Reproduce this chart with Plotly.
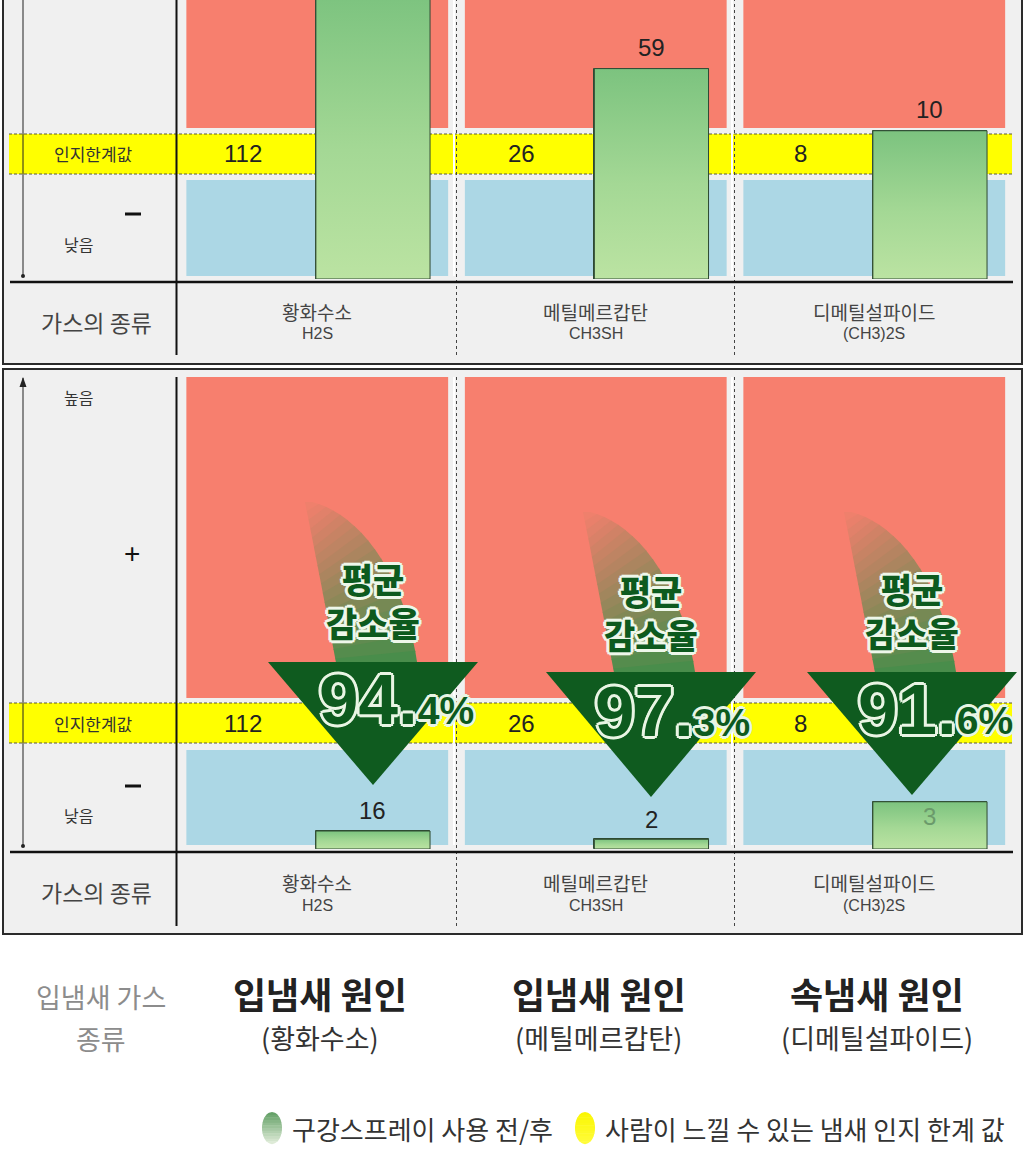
import math
import plotly.graph_objects as go

W, H = 1024, 1165

# ---------------- data ----------------
gases_kr = ["황화수소", "메틸메르캅탄", "디메틸설파이드"]
gases_formula = ["H2S", "CH3SH", "(CH3)2S"]
threshold = [112, 26, 8]            # 인지한계값 (odour perception threshold)
before = [520, 59, 10]              # H2S bar runs past the top edge (value not visible) -> estimate
after = [16, 2, 3]
reduction = [94.4, 97.3, 91.6]      # 평균 감소율 (%)
reduction_head = "평균<br>감소율"
left_labels = ["인지한계값", "낮음", "높음", "가스의 종류"]
cause_title = ["입냄새 원인", "입냄새 원인", "속냄새 원인"]
cause_sub = ["(황화수소)", "(메틸메르캅탄)", "(디메틸설파이드)"]
footer_head = ["입냄새 가스", "종류"]
legend_labels = ["구강스프레이 사용 전/후", "사람이 느낄 수 있는 냄새 인지 한계 값"]

# ---------------- helpers ----------------
KR = "Noto Sans CJK KR"
NUM = "Liberation Sans"


def X(px):
    return px / W


def Y(py):
    return 1 - py / H


shapes = []
annotations = []


def rect(x0, y0, x1, y1, fill, line_color=None, line_width=0, xref="paper"):
    if xref == "paper":
        a, b = X(x0), X(x1)
    else:
        a, b = x0, x1
    shapes.append(dict(type="rect", xref=xref, yref="paper", x0=a, x1=b, y0=Y(y1), y1=Y(y0),
                       fillcolor=fill, line=dict(color=line_color or fill, width=line_width),
                       layer="below"))


def seg(x0, y0, x1, y1, color="#111", width=1, dash="solid"):
    shapes.append(dict(type="line", xref="paper", yref="paper", x0=X(x0), y0=Y(y0), x1=X(x1), y1=Y(y1),
                       line=dict(color=color, width=width, dash=dash), layer="below"))


def poly(points, fill):
    d = "M " + " L ".join(f"{X(x):.5f},{Y(y):.5f}" for x, y in points) + " Z"
    shapes.append(dict(type="path", xref="paper", yref="paper", path=d, fillcolor=fill,
                       line=dict(width=0), layer="below"))


def circle(cx, cy, r, fill):
    shapes.append(dict(type="circle", xref="paper", yref="paper", x0=X(cx - r), x1=X(cx + r),
                       y0=Y(cy + r), y1=Y(cy - r), fillcolor=fill, line=dict(width=0), layer="below"))


def text(t, x, y, size, color="#333", family=KR, xanchor="center", weight="normal",
         xref="paper", yref="paper", shadow=None, yshift=0):
    font = dict(size=size, color=color, family=family, weight=weight)
    if shadow:
        font["shadow"] = shadow
    annotations.append(dict(text=t, x=X(x) if xref == "paper" else x, y=Y(y) if yref == "paper" else y,
                            xref=xref, yref=yref, showarrow=False, xanchor=xanchor, yanchor="middle",
                            font=font, yshift=yshift))


def mix(c1, c2, f):
    return "rgb(" + ",".join(str(int(round(a * (1 - f) + b * f))) for a, b in zip(c1, c2)) + ")"


# ---------------- geometry (pixels) ----------------
X_LEFT, X_RIGHT = 178, 1013.5           # plot-area extent of the three gas columns
K_TOP = 240.0                           # px per decade (top panel, log of ratio)
TOP_BASE, TOP_THR = 279, 154
BOT_BASE, BOT_THR, BOT_TOP = 849, 723, 377
BOT_UNIT = BOT_BASE - BOT_THR

y1_range = [-(TOP_BASE - TOP_THR) / K_TOP, TOP_THR / K_TOP]
y2_range = [0, (BOT_BASE - BOT_TOP) / BOT_UNIT]

panels = [
    dict(top=-8, bottom=364, zone_top=-8, red_bot=128, yel_top=134, yel_bot=174, blue_top=180,
         blue_bot=276, hline=282, vtop=-8, vbot=355, cat_y=312, form_y=334, thr_y=153,
         minus_y=214, low_y=244, gas_y=322, arrow_top=-8, arrow_bot=276, high=False,
         xa="x", ya="y"),
    dict(top=369, bottom=934, zone_top=377, red_bot=698, yel_top=703, yel_bot=743, blue_top=750,
         blue_bot=845, hline=852, vtop=377, vbot=926, cat_y=882, form_y=905, thr_y=723,
         minus_y=786, low_y=815, gas_y=892, arrow_top=378, arrow_bot=846, high=True,
         xa="x2", ya="y2"),
]

RED = "#f77f6e"
BLUE = "#acd7e5"
YEL = "#ffff00"
PANEL = "#f0f0f0"

for p in panels:
    rect(3, p["top"], 1022, p["bottom"], PANEL, "#2b2b2b", 2)
    for i in range(3):
        rect(i - 0.47, p["zone_top"], i + 0.47, p["red_bot"], RED, xref=p["xa"])
        rect(i - 0.47, p["blue_top"], i + 0.47, p["blue_bot"], BLUE, xref=p["xa"])
    rect(9, p["yel_top"], 1012, p["yel_bot"], YEL)
    seg(9, p["yel_top"], 1012, p["yel_top"], "#5a5a3a", 1, "3px,2px")
    seg(9, p["yel_bot"], 1012, p["yel_bot"], "#5a5a3a", 1, "3px,2px")
    for xd in (456.5, 734.5):
        seg(xd - 2.5, p["vtop"], xd - 2.5, p["blue_bot"], "#ffffff", 2)
        seg(xd, p["vtop"], xd, p["vbot"], "#444", 1, "dot")
    seg(176.5, p["vtop"], 176.5, p["vbot"], "#111", 2)
    seg(10, p["hline"], 1013, p["hline"], "#111", 2.5)
    # left scale arrow
    seg(23, p["arrow_top"], 23, p["arrow_bot"], "#222", 1)
    circle(23, p["arrow_bot"], 2, "#222")
    if p["high"]:
        poly([(19.5, p["arrow_top"] + 9), (26.5, p["arrow_top"] + 9), (23, p["arrow_top"] - 1)], "#222")
        text(left_labels[2], 78, 397, 16, "#333")
        text("+", 132, 553, 28, "#111", family=NUM)
    seg(125, p["minus_y"], 141, p["minus_y"], "#111", 3)
    text(left_labels[0], 93, p["thr_y"], 17, "#333")
    text(left_labels[1], 78, p["low_y"], 16, "#333")
    text(left_labels[3], 96, p["gas_y"], 23, "#444")
    for i in range(3):
        text(gases_kr[i], i, p["cat_y"], 19, "#444", xref=p["xa"])
        text(gases_formula[i], i, p["form_y"], 16, "#444", family=NUM, xref=p["xa"])
        text(str(threshold[i]), i - 0.265, p["thr_y"], 24, "#222", family=NUM, xref=p["xa"])

# ---------------- arrows (bottom panel) ----------------
tri_cx = [373, 651, 912]
tri_top = [662, 672, 672]
tri_tip = [785, 797, 795]
red_rgb = (247, 127, 110)
green_rgb = (58, 142, 72)


def bez2(p, t):
    p0, p1, p2 = p
    return ((1 - t) ** 2 * p0[0] + 2 * (1 - t) * t * p1[0] + t ** 2 * p2[0],
            (1 - t) ** 2 * p0[1] + 2 * (1 - t) * t * p1[1] + t ** 2 * p2[1])


def bez3(p, t):
    p0, p1, p2, p3 = p
    u = 1 - t
    return (u ** 3 * p0[0] + 3 * u * u * t * p1[0] + 3 * u * t * t * p2[0] + t ** 3 * p3[0],
            u ** 3 * p0[1] + 3 * u * u * t * p1[1] + 3 * u * t * t * p2[1] + t ** 3 * p3[1])


for i in range(3):
    cx, ty = tri_cx[i], tri_top[i]
    top = ty - 160
    L = [(cx - 68, top), (cx - 52, ty - 80), (cx - 36, ty + 6)]
    R = [(cx - 61, top), (cx - 20, top + 10), (cx + 30, ty - 100), (cx + 45, ty + 6)]
    N = 18
    for k in range(N):
        t0, t1 = k / N, (k + 1) / N
        tm = (t0 + t1) / 2
        f = 0.03 + 0.92 * tm ** 1.2
        pts = [bez2(L, t0), bez2(L, min(t1 + 0.004, 1)), bez3(R, min(t1 + 0.004, 1)), bez3(R, t0)]
        poly(pts, mix(red_rgb, green_rgb, f))
    poly([(cx - 105, ty), (cx + 105, ty), (cx, tri_tip[i])], "#0f5b1f")

# ---------------- legend shapes ----------------
def ellipse_bands(cx, cy, rx, ry, c_top, c_bot, n=12):
    for k in range(n):
        ya = cy - ry + 2 * ry * k / n
        yb = cy - ry + 2 * ry * (k + 1) / n + 0.3
        ys = [ya + (yb - ya) * j / 4 for j in range(5)]

        def hw(y):
            v = 1 - ((y - cy) / ry) ** 2
            return rx * math.sqrt(max(v, 0))
        left = [(cx - hw(y), y) for y in ys]
        right = [(cx + hw(y), y) for y in reversed(ys)]
        poly(left + right, mix(c_top, c_bot, (k + 0.5) / n))


ellipse_bands(272, 1128, 10, 16, (95, 158, 99), (228, 238, 220))
ellipse_bands(585, 1128, 10, 16, (250, 246, 0), (255, 252, 60))
text(legend_labels[0], 290, 1128, 26, "#333", xanchor="left")
text(legend_labels[1], 603, 1128, 26, "#333", xanchor="left")

# ---------------- footer text ----------------
text(footer_head[0], 101, 996, 27, "#8c8c8c")
text(footer_head[1], 101, 1038, 27, "#8c8c8c")
for i in range(3):
    text(cause_title[i], i + 0.01, 993, 36, "#222", weight="bold", xref="x")
    text(cause_sub[i], i + 0.01, 1037, 27, "#333", xref="x")

# ---------------- traces ----------------
ratio_before = [b / t for b, t in zip(before, threshold)]
ratio_after = [a / t for a, t in zip(after, threshold)]
BAR_FILL = "#9cd392"
BAR_LINE = dict(color="#2f4a33", width=1)
BAR_OFF, BAR_W = -0.005, 0.41
GRAD = [[0, "#bbe3a2"], [0.45, "#a4d895"], [1, "#7cc37f"]]

fig = go.Figure()
fig.add_trace(go.Bar(x=[0, 1, 2], y=ratio_before, xaxis="x", yaxis="y", offset=BAR_OFF, width=BAR_W,
                     marker=dict(color=BAR_FILL, line=BAR_LINE), name="사용 전",
                     customdata=before, hovertemplate="%{customdata}<extra></extra>"))
fig.add_trace(go.Bar(x=[0, 1, 2], y=ratio_after, xaxis="x2", yaxis="y2", offset=BAR_OFF, width=BAR_W,
                     marker=dict(color=BAR_FILL, line=BAR_LINE), name="사용 후",
                     customdata=after, hovertemplate="%{customdata}<extra></extra>"))

# gradient skin on each bar (same x / value through the same axes)
for ratios, xa, ya, base in ((ratio_before, "x", "y", 10 ** y1_range[0]),
                             (ratio_after, "x2", "y2", y2_range[0])):
    for i, r in enumerate(ratios):
        x0, x1 = i + BAR_OFF, i + BAR_OFF + BAR_W
        fig.add_trace(go.Scatter(x=[x0, x1, x1, x0, x0], y=[base, base, r, r, base], xaxis=xa, yaxis=ya,
                                 mode="lines", fill="toself", line=dict(color="#2f4a33", width=1),
                                 fillgradient=dict(type="vertical", colorscale=GRAD),
                                 hoverinfo="skip", showlegend=False))

# value labels
for i, r in enumerate(ratio_before):
    lv = math.log10(r)
    if lv < y1_range[1]:
        text(str(before[i]), i + 0.2, lv, 24, "#222", family=NUM, xref="x", yref="y", yshift=21)
after_shift = [21, 20, -15]
after_color = ["#222", "#222", "#6b9a6b"]
for i, r in enumerate(ratio_after):
    text(str(after[i]), i + 0.2, r, 24, after_color[i], family=NUM, xref="x2", yref="y2",
         yshift=after_shift[i])

# big reduction labels
outline = lambda c, d: ", ".join(f"{dx}px {dy}px 0px {c}" for dx, dy in
                                  [(d, 0), (-d, 0), (0, d), (0, -d), (d - 1, d - 1), (1 - d, 1 - d),
                                   (d - 1, 1 - d), (1 - d, d - 1)])
head_y = [600, 612, 610]                # centre of the two-line heading
pct_x = [396, 672, 935]
pct_base = [724, 736, 734]              # baseline of the big numbers
for i, v in enumerate(reduction):
    text(reduction_head, tri_cx[i], head_y[i], 34, "#0d5a1e", weight=900,
         shadow=outline("#eef7ea", 3))
    whole, dec = f"{v:.1f}".split(".")
    t = f"{whole}.<span style='font-size:39px'>{dec}%</span>"
    text(t, pct_x[i], pct_base[i] - 24.5, 71, "#0d5a1e", family=NUM, weight="bold",
         shadow=outline("#e9f5e4", 3))

dom_x = [X(X_LEFT), X(X_RIGHT)]
fig.update_layout(
    width=W, height=H, margin=dict(l=0, r=0, t=0, b=0),
    paper_bgcolor="#ffffff", plot_bgcolor="rgba(0,0,0,0)", showlegend=False,
    bargap=0,
    xaxis=dict(domain=dom_x, range=[-0.5, 2.5], visible=False, fixedrange=True, anchor="y"),
    yaxis=dict(domain=[Y(TOP_BASE), 1.0], type="log", range=y1_range, visible=False,
               fixedrange=True, anchor="x"),
    xaxis2=dict(domain=dom_x, range=[-0.5, 2.5], visible=False, fixedrange=True, anchor="y2"),
    yaxis2=dict(domain=[Y(BOT_BASE), Y(BOT_TOP)], range=y2_range, visible=False,
                fixedrange=True, anchor="x2"),
    shapes=shapes, annotations=annotations,
)

fig.write_html("out.html", config={"displayModeBar": False})
